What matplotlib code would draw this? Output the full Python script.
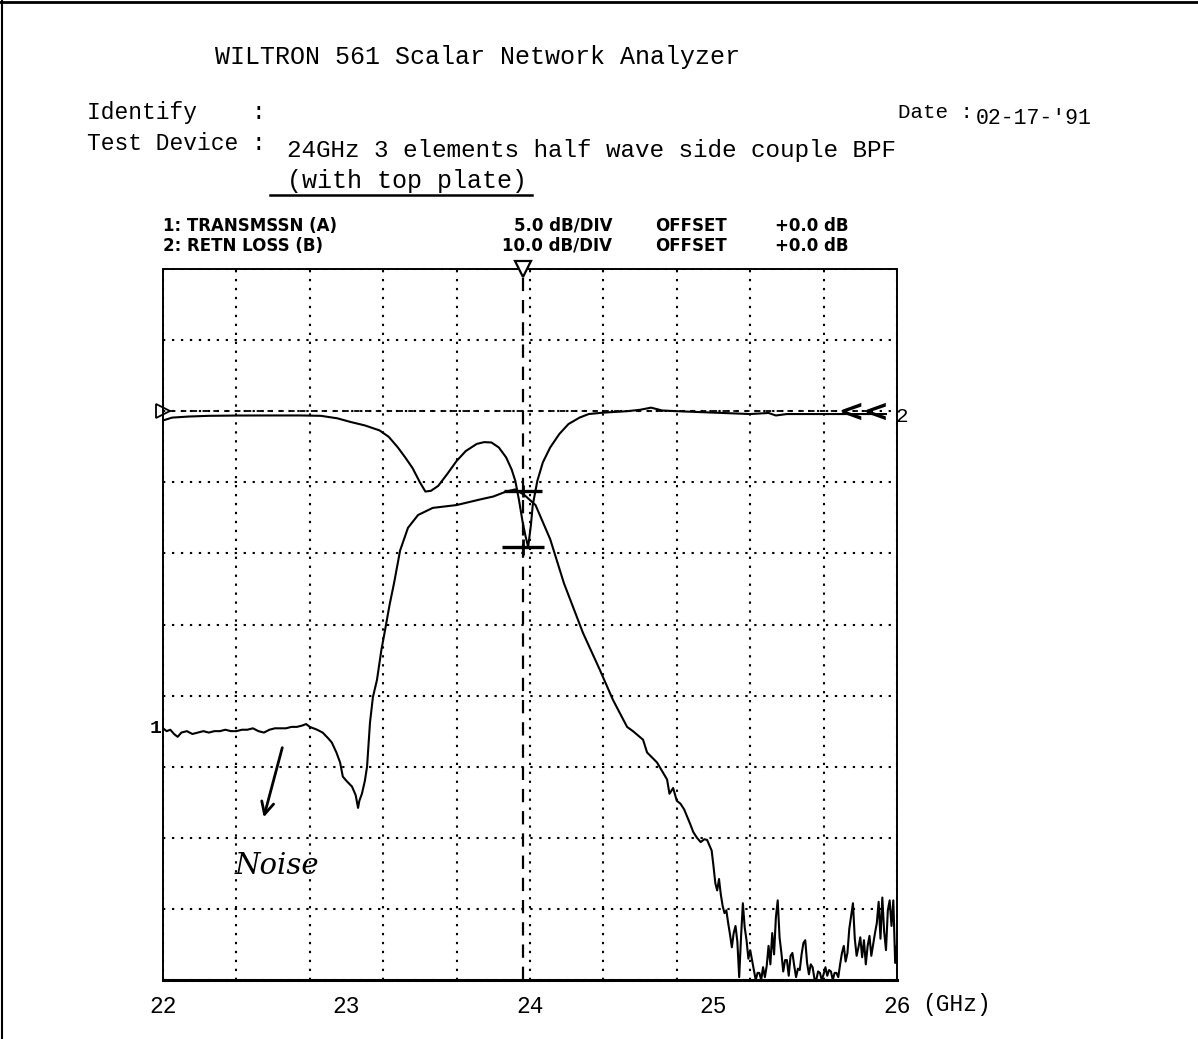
import matplotlib.pyplot as plt
import numpy as np
from matplotlib.lines import Line2D

W, H = 1198, 1039

# trace 1: transmission (5 dB/div)
f_trans = [22.00, 22.02, 22.04, 22.06, 22.08, 22.10, 22.13, 22.16, 22.19, 22.22,
           22.25, 22.28, 22.31, 22.34, 22.37, 22.40, 22.43, 22.46, 22.49, 22.52,
           22.55, 22.58, 22.61, 22.64, 22.67, 22.70, 22.73, 22.76, 22.78, 22.80,
           22.84, 22.87, 22.90, 22.92, 22.945, 22.965, 22.98, 23.00, 23.03, 23.05,
           23.063, 23.07, 23.084, 23.10, 23.112, 23.128, 23.144, 23.166, 23.19, 23.21,
           23.235, 23.259, 23.292, 23.335, 23.39, 23.47, 23.60, 23.73, 23.80, 23.87,
           23.92, 23.97, 24.03, 24.11, 24.185, 24.289, 24.381, 24.452, 24.529, 24.561,
           24.616, 24.638, 24.692, 24.747, 24.76, 24.78, 24.80, 24.82, 24.84, 24.856,
           24.872, 24.89, 24.91, 24.93, 24.95, 24.965, 24.98, 24.99,
           25.00, 25.01, 25.02, 25.03, 25.04, 25.05, 25.06, 25.07, 25.08, 25.09,
           25.10, 25.11, 25.12, 25.13, 25.14, 25.15, 25.16, 25.17, 25.18, 25.19,
           25.20, 25.21, 25.22, 25.23, 25.24, 25.25, 25.26, 25.27, 25.28, 25.29,
           25.30, 25.31, 25.32, 25.33, 25.34, 25.35, 25.36, 25.37, 25.38, 25.39,
           25.40, 25.41, 25.42, 25.43, 25.44, 25.45, 25.46, 25.47, 25.48, 25.49,
           25.50, 25.51, 25.52, 25.53, 25.54, 25.55, 25.56, 25.57, 25.58, 25.59,
           25.60, 25.61, 25.62, 25.63, 25.64, 25.65, 25.66, 25.67, 25.68, 25.69,
           25.70, 25.71, 25.72, 25.73, 25.74, 25.75, 25.76, 25.77, 25.78, 25.79,
           25.80, 25.81, 25.82, 25.83, 25.84, 25.85, 25.86, 25.87, 25.88, 25.89,
           25.90, 25.91, 25.92, 25.93, 25.94, 25.95, 25.96, 25.97, 25.98, 25.99,
           26.00]
s21_db = [-22.3, -22.5, -22.4, -22.7, -22.9, -22.6, -22.5, -22.7, -22.6, -22.5,
          -22.6, -22.5, -22.5, -22.4, -22.5, -22.5, -22.4, -22.4, -22.3, -22.5,
          -22.6, -22.4, -22.3, -22.3, -22.3, -22.2, -22.2, -22.1, -22.0, -22.2,
          -22.4, -22.6, -23.0, -23.3, -24.0, -24.7, -25.7, -26.0, -26.4, -27.0,
          -27.9, -27.4, -26.9, -26.0, -25.0, -21.9, -20.1, -18.9, -16.8, -15.4,
          -13.6, -12.1, -9.8, -8.2, -7.3, -6.8, -6.6, -6.2, -6.0, -5.65,
          -5.5, -5.9, -6.6, -9.0, -12.1, -15.6, -18.2, -20.3, -22.2, -22.5,
          -23.1, -24.0, -24.7, -25.9, -26.9, -26.5, -27.4, -27.6, -28.0, -28.5,
          -29.0, -29.6, -30.0, -30.3, -30.1, -30.15, -30.6, -30.9,
          -32.0, -33.2, -33.7, -32.9, -34.0, -34.8, -35.3, -35.1, -36.0, -36.8,
          -37.7, -36.7, -36.2, -37.3, -39.8, -37.0, -34.6, -36.3, -37.2, -38.5,
          -37.9, -38.6, -39.3, -40.0, -39.5, -39.5, -40.0, -39.1, -39.8, -39.0,
          -37.6, -38.9, -36.7, -38.2, -35.6, -34.4, -37.0, -38.1, -39.4, -38.6,
          -38.6, -39.7, -38.3, -38.1, -39.0, -39.8, -39.2, -39.3, -38.2, -37.4,
          -37.2, -38.8, -39.6, -38.9, -39.1, -39.9, -40.0, -39.4, -39.5, -40.0,
          -39.6, -39.1, -39.7, -39.3, -39.4, -40.0, -39.5, -39.5, -39.8, -38.9,
          -38.1, -37.6, -38.7, -38.1, -36.4, -35.5, -34.6, -37.1, -38.3, -37.7,
          -37.0, -38.4, -37.2, -38.9, -37.6, -36.9, -38.3, -37.5, -36.7, -36.0,
          -34.5, -37.1, -34.2, -36.6, -37.9, -35.1, -34.4, -36.2, -34.4, -38.8,
          -37.5]

# trace 2: return loss (10 dB/div)
f_retn = [22.00, 22.05, 22.14, 22.25, 22.41, 22.60, 22.75, 22.86, 22.95, 23.02,
          23.10, 23.18, 23.23, 23.28, 23.32, 23.36, 23.40, 23.43, 23.46, 23.50,
          23.55, 23.60, 23.65, 23.71, 23.75, 23.79, 23.83, 23.87, 23.90, 23.92,
          23.94, 23.96, 23.975, 23.99, 24.005, 24.015, 24.04, 24.07, 24.11, 24.16,
          24.21, 24.27, 24.32, 24.40, 24.53, 24.60, 24.66, 24.72, 24.80, 24.90,
          25.00, 25.10, 25.20, 25.30, 25.34, 25.40, 25.60, 25.80, 25.94]
s11_db = [-1.3, -0.9, -0.75, -0.65, -0.61, -0.6, -0.6, -0.65, -1.0, -1.5,
          -2.0, -2.7, -3.6, -5.1, -6.5, -8.0, -10.0, -11.3, -11.2, -10.5,
          -8.8, -7.0, -5.6, -4.6, -4.35, -4.4, -5.1, -6.5, -8.2, -9.8,
          -12.5, -15.6, -17.5, -19.1, -16.0, -13.2, -9.8, -7.2, -5.1, -3.2,
          -1.8, -0.9, -0.4, -0.2, 0.0, 0.2, 0.5, 0.1, 0.0, -0.1,
          -0.2, -0.3, -0.4, -0.25, -0.6, -0.4, -0.4, -0.4, -0.4]

marker_f = 23.96
marker_s21 = -5.6
marker_s11 = -19.1

freq_ticks = [22, 23, 24, 25, 26]
freq_labels = ['22', '23', '24', '25', '26']


def px(x, y):
    return x / W, 1 - y / H


fig = plt.figure(figsize=(W / 100, H / 100), dpi=100)
ax = fig.add_axes([163 / W, 1 - 980 / H, 734 / W, 711 / H])
ax2 = ax.twinx()

ax.set_xlim(22, 26)
ax.set_ylim(-40, 10)
ax2.set_ylim(-80, 20)

# graticule: 10 x 10 dotted divisions
ax.xaxis.remove_overlapping_locs = False
ax.set_xticks(freq_ticks)
ax.set_xticklabels(freq_labels, family='Liberation Mono', fontsize=16.5)
ax.set_xticks(np.linspace(22, 26, 11), minor=True)
ax.set_yticks(np.arange(-40, 11, 5))
ax.set_yticklabels([])
ax2.set_yticks([])
ax.tick_params(which='both', length=0, pad=11)
dot = (0, (1.1, 3.2))
ax.grid(which='minor', axis='x', color='k', lw=1.5, ls=dot)
ax.grid(which='major', axis='y', color='k', lw=1.5, ls=dot)

for s in ['left', 'right']:
    ax.spines[s].set_linestyle((0, (1, 1)))
    ax.spines[s].set_linewidth(1.4)
ax.spines['top'].set_linewidth(1.4)
ax.spines['bottom'].set_linewidth(2.2)
for s in ax2.spines.values():
    s.set_visible(False)

# reference line, marker line
ax.axhline(0, color='k', lw=1.3, ls=(0, (3, 3)), xmin=0.01, xmax=0.96)
ax.axvline(marker_f, color='k', lw=1.6, ls=(0, (6, 4)))

ax.plot(f_trans, s21_db, color='k', lw=1.5)
ax2.plot(f_retn, s11_db, color='k', lw=1.5)

# markers
ax.plot(marker_f, marker_s21, marker='_', ms=28, mew=2.4, color='k')
ax.plot(marker_f, marker_s21, marker='|', ms=8, mew=2, color='k')
ax2.plot(marker_f, marker_s11, marker='_', ms=30, mew=2.4, color='k')
ax2.plot(marker_f, marker_s11, marker='|', ms=12, mew=2, color='k')
ax.plot(marker_f, 10, marker='v', ms=12, mfc='white', mec='k', mew=1.6,
        clip_on=False, zorder=6)

# reference position symbols and trace numbers
ax.plot(22, 0, marker='>', ms=10, mfc='none', mec='k', mew=1.3, clip_on=False)
ax.annotate('<<', xy=(26, 0), xytext=(-5, -1), textcoords='offset points',
            ha='right', va='center', fontsize=22, fontweight='bold')
ax.annotate('2', xy=(26, 0), xytext=(-1, -4), textcoords='offset points',
            ha='left', va='center', fontsize=15, family='Liberation Mono')
ax.annotate('1', xy=(f_trans[0], s21_db[0]), xytext=(-1, 0),
            textcoords='offset points', ha='right', va='center',
            fontsize=14, fontweight='bold', family='Liberation Mono')

# header
mono = 'Liberation Mono'
fig.text(*px(215, 57), 'WILTRON 561 Scalar Network Analyzer', family=mono,
         fontsize=18, va='center')
fig.text(*px(87, 113), 'Identify    :', family=mono, fontsize=16.5, va='center')
fig.text(*px(898, 112), 'Date :', family=mono, fontsize=15, va='center')
fig.text(*px(976, 119), "02-17-'91", family=mono, fontsize=15.5, va='center')
fig.text(*px(87, 143), 'Test Device :', family=mono, fontsize=16.5, va='center')
fig.text(*px(287, 151), '24GHz 3 elements half wave side couple BPF',
         family=mono, fontsize=17.5, va='center')
fig.text(*px(287, 181), '(with top plate)', family=mono, fontsize=18, va='center')
fig.add_artist(Line2D([270 / W, 532 / W], [1 - 195 / H] * 2,
                      transform=fig.transFigure, color='k', lw=1.8))

leg = dict(fontsize=12, fontweight='bold', va='center')
fig.text(*px(163, 226), '1: TRANSMSSN (A)', **leg)
fig.text(*px(612, 226), '5.0 dB/DIV', ha='right', **leg)
fig.text(*px(655, 226), 'OFFSET', **leg)
fig.text(*px(775, 226), '+0.0 dB', **leg)
fig.text(*px(163, 246), '2: RETN LOSS (B)', **leg)
fig.text(*px(612, 246), '10.0 dB/DIV', ha='right', **leg)
fig.text(*px(655, 246), 'OFFSET', **leg)
fig.text(*px(775, 246), '+0.0 dB', **leg)

fig.text(*px(922, 1005), '(GHz)', family=mono, fontsize=16.5, va='center')

# handwritten note
fig.text(*px(235, 866), 'Noise', family='DejaVu Serif', style='italic',
         fontsize=21, va='center')
ax.annotate('', xy=px(263, 820), xytext=px(283, 745), xycoords='figure fraction',
            textcoords='figure fraction',
            arrowprops=dict(arrowstyle='->', lw=2, mutation_scale=22, color='k'))

# page edges
fig.add_artist(Line2D([0, 1], [1 - 2 / H] * 2, transform=fig.transFigure,
                      color='k', lw=2))
fig.add_artist(Line2D([2 / W] * 2, [0, 1], transform=fig.transFigure,
                      color='k', lw=1.5))

fig.savefig('out.png', dpi=100, facecolor='white')
